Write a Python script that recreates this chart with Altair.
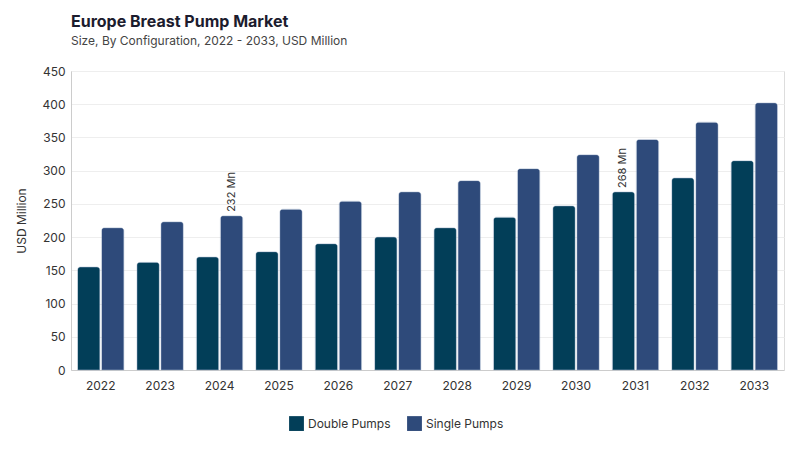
import altair as alt
import pandas as pd

years = ["2022", "2023", "2024", "2025", "2026", "2027", "2028", "2029", "2030", "2031", "2032", "2033"]
double_pumps = [155, 162, 170, 178, 190, 200, 214, 230, 247, 268, 289, 315]
single_pumps = [214, 223, 232, 242, 254, 268, 285, 303, 324, 347, 373, 402]
series = ["Double Pumps", "Single Pumps"]
colors = ["#023e58", "#2e4a7a"]
labels = {("2024", "Single Pumps"): "232 Mn", ("2031", "Double Pumps"): "268 Mn"}

rows = []
for i, y in enumerate(years):
    for s, vals in zip(series, [double_pumps, single_pumps]):
        rows.append({"Year": y, "Configuration": s, "Value": vals[i],
                     "Label": labels.get((y, s), "")})
df = pd.DataFrame(rows)

FONT = "Inter"

x = alt.X("Year:N", title=None, sort=years,
          scale=alt.Scale(paddingInner=0.22, paddingOuter=0.11),
          axis=alt.Axis(labelAngle=0, labelFontSize=12, labelColor="#333333",
                        labelPadding=10, ticks=False, domainColor="#cccccc",
                        labelFont=FONT))
y = alt.Y("Value:Q", title="USD Million",
          scale=alt.Scale(domain=[0, 450]),
          axis=alt.Axis(values=list(range(0, 451, 50)), labelFontSize=12,
                        labelColor="#333333", titleFontSize=12,
                        titleFontWeight="normal", titleColor="#333333",
                        ticks=False, domainColor="#cccccc", gridColor="#eeeeee",
                        labelPadding=6, titlePadding=14, labelFont=FONT,
                        titleFont=FONT))
color = alt.Color("Configuration:N",
                  scale=alt.Scale(domain=series, range=colors),
                  legend=alt.Legend(title=None, orient="none", direction="horizontal",
                                    legendX=218, legendY=345,
                                    symbolType="square", symbolSize=220,
                                    labelFontSize=12, labelColor="#333333",
                                    labelFont=FONT, columnPadding=16,
                                    symbolStrokeWidth=0))
xoff = alt.XOffset("Configuration:N", sort=series,
                   scale=alt.Scale(paddingInner=0.07))

bars = alt.Chart(df).mark_bar(cornerRadiusEnd=3, stroke="#8fa3bf",
                              strokeWidth=0.6, strokeOpacity=0.6).encode(
    x=x, y=y, color=color, xOffset=xoff
)

text = alt.Chart(df).mark_text(angle=270, align="left", baseline="middle",
                               dx=4, fontSize=11, color="#333333",
                               font=FONT).encode(
    x=x, y=y, xOffset=xoff, text="Label:N"
)

chart = alt.layer(bars, text).properties(
    width=713, height=299,
    title=alt.TitleParams(
        text="Europe Breast Pump Market",
        subtitle="Size, By Configuration, 2022 - 2033, USD Million",
        anchor="start", fontSize=16, fontWeight="bold", color="#1c1c2e",
        subtitleFontSize=12, subtitleColor="#444444", font=FONT,
        subtitleFont=FONT, offset=18, subtitlePadding=6, frame="group"),
    padding={"left": 7, "top": 6, "right": 5, "bottom": 5},
).configure_view(stroke=None).configure(background="white")

chart.save("out.html", embed_options={"renderer": "svg", "actions": False})
